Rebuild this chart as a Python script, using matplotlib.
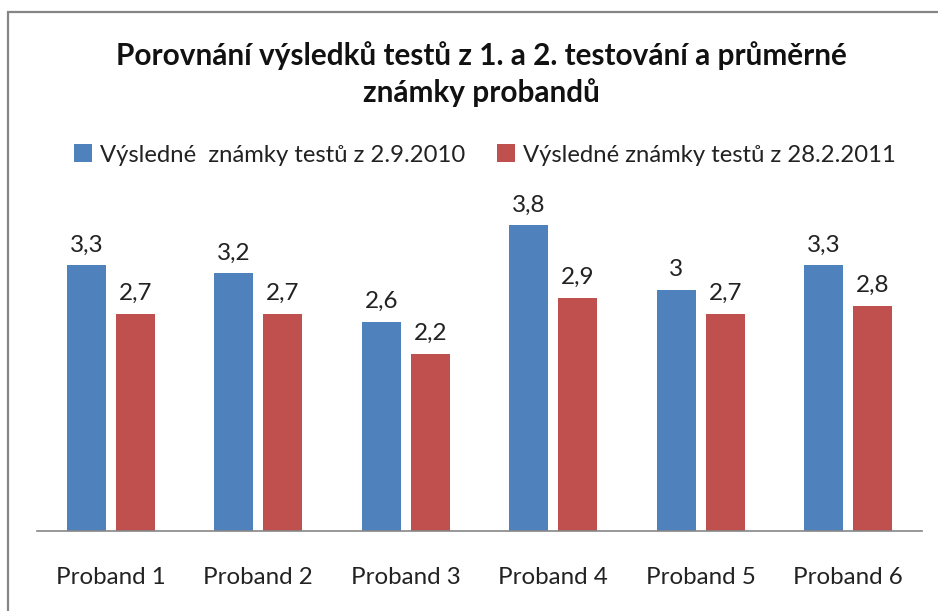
import matplotlib
matplotlib.use("Agg")
import matplotlib.pyplot as plt
from matplotlib.patches import Rectangle
import numpy as np

categories = ["Proband 1", "Proband 2", "Proband 3", "Proband 4", "Proband 5", "Proband 6"]
series1_name = "Výsledné  známky testů z 2.9.2010"
series2_name = "Výsledné známky testů z 28.2.2011"
series1 = [3.3, 3.2, 2.6, 3.8, 3.0, 3.3]
series2 = [2.7, 2.7, 2.2, 2.9, 2.7, 2.8]
title = "Porovnání výsledků testů z 1. a 2. testování a průměrné\nznámky probandů"

plt.rcParams['font.family'] = ['Lato', 'DejaVu Sans']

W, H = 938, 611
fig = plt.figure(figsize=(W/100, H/100), dpi=100)

# chart border (partially cropped at right/bottom)
fig.patches.append(Rectangle((8/W, -0.05), 1.1, (H-12)/H + 0.05, transform=fig.transFigure,
                             fill=False, edgecolor="#868686", linewidth=1.6))

ax = fig.add_axes([37/W, (H-531)/H, 885/W, 322/H])
x = np.arange(len(categories))
bw = 0.264
off = 0.166
b1 = ax.bar(x - off, series1, bw, color="#4F81BD", label=series1_name)
b2 = ax.bar(x + off, series2, bw, color="#C0504D", label=series2_name)

fmt = lambda v: (f"{v:g}").replace(".", ",")
ax.bar_label(b1, labels=[fmt(v) for v in series1], padding=7, fontsize=17.5, color="#222222")
ax.bar_label(b2, labels=[fmt(v) for v in series2], padding=7, fontsize=17.5, color="#222222")

ax.set_xlim(-0.5, len(categories) - 0.5)
ax.set_ylim(0, 4)
ax.set_yticks([])
for s in ["top", "right", "left"]:
    ax.spines[s].set_visible(False)
ax.spines["bottom"].set_color("#868686")
ax.spines["bottom"].set_linewidth(1.2)
ax.set_xticks(x)
ax.set_xticklabels(categories, fontsize=17.4, color="#222222")
ax.tick_params(axis="x", length=0, pad=26)

fig.text(481/W, 1 - 74/H, title, ha="center", va="center", fontsize=21.4,
         fontweight="bold", linespacing=1.35, color="#111111")

leg = fig.legend(handles=[b1, b2], loc="center", bbox_to_anchor=(485/W, 1 - 155/H),
                 ncol=2, frameon=False, fontsize=17.2, handlelength=0.75, handleheight=0.75,
                 handletextpad=0.35, columnspacing=1.3, labelcolor="#222222")

fig.savefig("out.png", dpi=100)
